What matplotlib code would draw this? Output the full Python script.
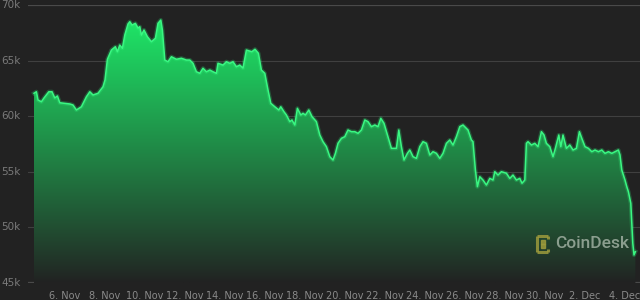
import datetime
import numpy as np
import matplotlib
matplotlib.use("Agg")
import matplotlib.pyplot as plt
import matplotlib.dates as mdates
import matplotlib.transforms as mtransforms
from matplotlib.ticker import FuncFormatter
from matplotlib.lines import Line2D

# day of November (Dec 1 = 31) and BTC price in thousands USD
days = [4.45, 4.57, 4.65, 4.82, 4.95, 5.19, 5.35, 5.49, 5.62, 5.74, 5.99, 6.24, 6.40, 6.57,
        6.82, 7.07, 7.24, 7.40, 7.65, 7.90, 8.00, 8.12, 8.32, 8.52, 8.62, 8.74, 8.87, 8.99,
        9.15, 9.24, 9.35, 9.52, 9.65, 9.74, 9.82, 9.95, 10.12, 10.32, 10.52, 10.65, 10.79,
        10.87, 10.99, 11.15, 11.32, 11.57, 11.82, 12.07, 12.24, 12.40, 12.57, 12.74, 12.90,
        13.07, 13.24, 13.40, 13.57, 13.65, 13.90, 14.07, 14.24, 14.40, 14.57, 14.74, 14.90,
        15.07, 15.34, 15.50, 15.67, 15.82, 15.99, 16.15, 16.29, 16.49, 16.69, 16.79, 16.95,
        17.07, 17.24, 17.35, 17.49, 17.62, 17.79, 17.90, 18.02, 18.19, 18.35, 18.57, 18.74,
        18.90, 19.07, 19.24, 19.40, 19.52, 19.65, 19.82, 19.99, 20.15, 20.32, 20.49, 20.65,
        20.82, 20.99, 21.15, 21.32, 21.49, 21.65, 21.79, 21.95, 22.15, 22.32, 22.57, 22.69,
        22.82, 22.95, 23.12, 23.24, 23.40, 23.57, 23.74, 23.90, 24.07, 24.24, 24.40, 24.57,
        24.74, 24.90, 25.07, 25.24, 25.40, 25.57, 25.74, 25.90, 26.07, 26.15, 26.32, 26.40,
        26.52, 26.62, 26.74, 26.90, 27.07, 27.24, 27.40, 27.49, 27.65, 27.82, 28.07, 28.24,
        28.40, 28.57, 28.74, 28.85, 28.99, 29.07, 29.15, 29.32, 29.49, 29.65, 29.82, 29.95,
        30.07, 30.24, 30.40, 30.52, 30.69, 30.79, 30.90, 31.07, 31.24, 31.40, 31.57, 31.72,
        31.84, 32.00, 32.17, 32.34, 32.50, 32.67, 32.84, 33.00, 33.17, 33.34, 33.50, 33.67,
        33.75, 33.84, 34.00, 34.09, 34.17, 34.29, 34.34, 34.39, 34.45, 34.52]
price = [62.06, 62.20, 61.46, 61.30, 61.64, 62.20, 62.20, 61.64, 61.82, 61.21, 61.16, 61.10,
         61.01, 60.56, 60.85, 61.75, 62.20, 61.91, 62.06, 62.65, 63.26, 65.12, 65.95, 66.25,
         65.80, 66.40, 66.11, 67.30, 68.29, 68.50, 68.20, 68.35, 67.93, 68.05, 67.30, 67.75,
         67.15, 66.70, 67.01, 68.35, 68.65, 67.75, 65.05, 64.90, 65.35, 65.12, 65.21, 65.05,
         65.05, 64.76, 64.00, 63.86, 64.31, 64.00, 64.15, 64.00, 63.86, 64.76, 64.60, 64.90,
         64.76, 64.90, 64.45, 64.60, 64.33, 65.95, 65.80, 66.02, 65.66, 64.15, 63.86, 62.36,
         61.16, 60.85, 60.56, 60.85, 60.40, 60.11, 59.51, 59.66, 59.21, 60.71, 60.11, 60.26,
         60.11, 60.56, 59.96, 59.51, 58.31, 57.71, 57.26, 56.36, 56.06, 56.66, 57.56, 58.01,
         58.16, 58.76, 58.61, 58.61, 58.46, 58.76, 59.66, 59.51, 59.06, 59.21, 59.06, 59.81,
         59.36, 58.16, 57.11, 57.11, 58.76, 57.26, 56.06, 56.66, 56.96, 56.36, 56.21, 57.26,
         57.71, 57.56, 56.51, 56.81, 56.66, 56.21, 56.66, 57.56, 57.86, 57.41, 58.16, 59.06,
         59.21, 58.91, 58.76, 57.86, 57.71, 55.16, 53.66, 54.56, 54.26, 53.81, 54.41, 54.26,
         55.01, 54.71, 55.01, 54.87, 54.41, 54.71, 54.26, 54.41, 53.97, 54.26, 57.56, 57.71,
         57.41, 57.56, 57.26, 58.61, 58.31, 57.56, 57.26, 56.36, 57.11, 58.31, 57.26, 58.31,
         57.11, 57.41, 56.96, 57.11, 58.61, 58.01, 57.26, 57.11, 56.81, 56.96, 56.81, 56.96,
         56.66, 56.81, 56.66, 56.81, 56.96, 56.51, 55.16, 54.26, 53.66, 53.21, 52.17, 50.37,
         48.57, 47.52, 47.82]

y_ticks = [45, 50, 55, 60, 65, 70]
y_labels = ["45k", "50k", "55k", "60k", "65k", "70k"]

start = datetime.datetime(2021, 11, 1)
dates = [start + datetime.timedelta(days=d - 1) for d in days]
x = mdates.date2num(dates)
y = np.array(price)

bg = "#222222"
fig = plt.figure(figsize=(6.4, 3.0), dpi=100, facecolor=bg)
ax = fig.add_axes([28 / 640, 1 - 283 / 300, 612 / 640, 278 / 300])
ax.set_facecolor(bg)

x_left = mdates.date2num(start + datetime.timedelta(days=4.15 - 1))
x_right = mdates.date2num(start + datetime.timedelta(days=34.75 - 1))

# gridlines
for t in y_ticks:
    lw = 1.6 if t in (45, 70) else 0.8
    col = "#4a4a4a" if t in (45, 70) else "#404040"
    ax.axhline(t, color=col, lw=lw, zorder=1)

# gradient fill under the line
poly = ax.fill_between(x, y, 45, facecolor="none", edgecolor="none")
top = np.array([30, 232, 104]) / 255
bot = np.array([34, 34, 34]) / 255
frac = np.linspace(0, 1, 256)[:, None]
grad = bot + (top - bot) * frac ** 0.95
grad = np.repeat(grad[:, None, :], 2, axis=1)
im = ax.imshow(grad, extent=[x_left, x_right, 45, 69.0], origin="lower",
               aspect="auto", zorder=2, interpolation="bilinear")
im.set_clip_path(poly.get_paths()[0], transform=ax.transData)
ax.set_xlim(x_left, x_right)
ax.set_ylim(45, 70)

# line with a soft glow
ax.plot(x, y, color="#2ef07a", lw=3.0, alpha=0.25, zorder=3, solid_joinstyle="round")
ax.plot(x, y, color="#3af782", lw=1.1, zorder=4, solid_joinstyle="round")

for s in ax.spines.values():
    s.set_visible(False)

# y labels, left aligned at the figure edge
ax.set_yticks([])
ytr = mtransforms.blended_transform_factory(fig.transFigure, ax.transData)
for t, lab in zip(y_ticks, y_labels):
    ax.text(1 / 640, t, lab, transform=ytr, ha="left", va="center", fontsize=7.5,
            color="#7a7a7a", clip_on=False)

tick_dates = [start + datetime.timedelta(days=d - 1) for d in range(6, 35, 2)]
ax.set_xticks(mdates.date2num(tick_dates))
ax.xaxis.set_major_formatter(FuncFormatter(
    lambda v, p: f"{mdates.num2date(v).day}. {mdates.num2date(v).strftime('%b')}"))
ax.tick_params(axis="x", length=0, pad=6, labelsize=7, labelcolor="#8a8a8a")

# CoinDesk watermark
logo_col = "#9c9a3c"
def fig_px(px, py):
    return (px / 640, 1 - py / 300)
segs = [((537, 236), (548, 236)), ((537, 236), (537, 252)), ((537, 252), (548, 252)),
        ((548, 236), (548, 239)), ((548, 249), (548, 252))]
for a, b in segs:
    (x0, y0), (x1, y1) = fig_px(*a), fig_px(*b)
    fig.add_artist(Line2D([x0, x1], [y0, y1], color=logo_col, lw=2.2, alpha=0.85,
                          solid_capstyle="butt"))
for py in (242, 246):
    cx, cy = fig_px(543, py)
    fig.add_artist(Line2D([cx], [cy], marker="s", ms=2.2, color=logo_col, alpha=0.85, lw=0))
fig.text(555 / 640, 1 - 244 / 300, "CoinDesk", fontsize=12.5, family="Roboto",
         fontweight="medium", color="#98a99a", alpha=0.9, va="center", ha="left")

fig.savefig("out.png", dpi=100, facecolor=bg)
